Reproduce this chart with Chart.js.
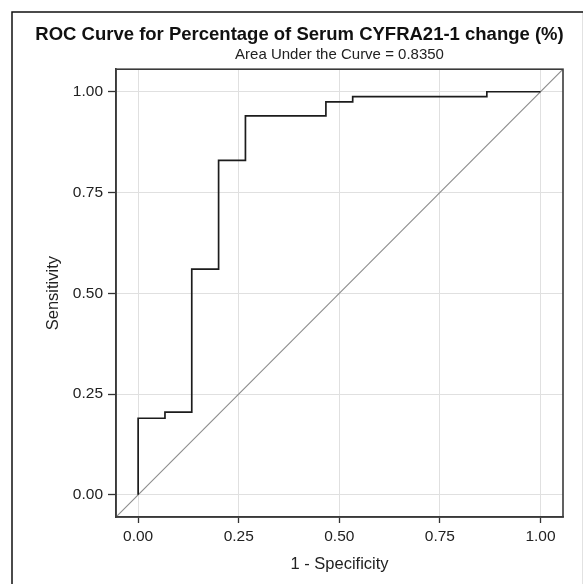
<!DOCTYPE html>
<html>
<head>
<meta charset="utf-8">
<script src="https://cdn.jsdelivr.net/npm/chart.js@4"></script>
<style>
html,body{margin:0;padding:0;background:#fff;}
#wrap{width:587px;height:584px;position:relative;}
</style>
</head>
<body>
<div id="wrap"><canvas id="c" width="587" height="584"></canvas></div>
<script>
// ---- data ----
const titleText = 'ROC Curve for Percentage of Serum CYFRA21-1 change (%)';
const subtitleText = 'Area Under the Curve = 0.8350';
const xTitle = '1 - Specificity';
const yTitle = 'Sensitivity';
const fpr = [0, 0, 0.0667, 0.1333, 0.2, 0.2667, 0.4667, 0.5333, 0.8667, 1];
const tpr = [0, 0.19, 0.205, 0.56, 0.83, 0.94, 0.975, 0.988, 1, 1];
const axisMin = -0.055;
const axisMax = 1.056;
const refLine = [axisMin, axisMax];
const tickValues = [0, 0.25, 0.5, 0.75, 1];
const tickLabels = ['0.00', '0.25', '0.50', '0.75', '1.00'];

Chart.defaults.font.family = '"Liberation Sans", Arial, Helvetica, sans-serif';
Chart.defaults.color = '#222';

const framePlugin = {
  id: 'frame',
  beforeDraw(chart) {
    const ctx = chart.ctx;
    ctx.save();
    ctx.fillStyle = '#fff';
    ctx.fillRect(0, 0, chart.width, chart.height);
    ctx.strokeStyle = '#e2e2e2';
    ctx.lineWidth = 1;
    ctx.beginPath();
    ctx.moveTo(582.5, 12); ctx.lineTo(582.5, 584);
    ctx.stroke();
    ctx.strokeStyle = '#111';
    ctx.lineWidth = 1.5;
    ctx.beginPath();
    ctx.moveTo(12, 584); ctx.lineTo(12, 12); ctx.lineTo(583, 12);
    ctx.stroke();
    ctx.restore();
  },
  afterDraw(chart) {
    const a = chart.chartArea;
    const ctx = chart.ctx;
    ctx.save();
    ctx.strokeStyle = '#3a3a3a';
    ctx.lineWidth = 1.6;
    ctx.strokeRect(a.left, a.top, a.right - a.left, a.bottom - a.top);
    ctx.restore();
  }
};

const setTicks = s => { s.ticks = tickValues.map(v => ({ value: v })); };
const tickCb = v => { const i = tickValues.indexOf(v); return i >= 0 ? tickLabels[i] : ''; };

new Chart(document.getElementById('c'), {
  type: 'scatter',
  data: {
    datasets: [
      {
        label: 'ROC',
        data: fpr.map((x, i) => ({ x: x, y: tpr[i] })),
        showLine: true,
        stepped: 'before',
        borderColor: '#1c1c1c',
        borderWidth: 1.7,
        pointRadius: 0,
        fill: false,
        order: 1
      },
      {
        label: 'Reference',
        data: refLine.map(v => ({ x: v, y: v })),
        showLine: true,
        borderColor: '#8c8c8c',
        borderWidth: 1.1,
        pointRadius: 0,
        fill: false,
        order: 2
      }
    ]
  },
  options: {
    responsive: false,
    animation: false,
    devicePixelRatio: 1,
    layout: { padding: { left: 12, right: 0, top: 12, bottom: 0 } },
    plugins: {
      legend: { display: false },
      tooltip: { enabled: false },
      title: {
        display: true,
        text: titleText,
        color: '#111',
        font: { size: 18.5, weight: 'bold' },
        padding: { top: 12, bottom: 0 }
      },
      subtitle: {
        display: true,
        text: subtitleText,
        fullSize: false,
        color: '#222',
        font: { size: 15 },
        padding: { top: 0, bottom: 5 }
      }
    },
    scales: {
      x: {
        type: 'linear',
        min: axisMin,
        max: axisMax,
        afterBuildTicks: setTicks,
        afterFit: s => { s.height = 67; },
        ticks: { callback: tickCb, font: { size: 15.5 }, color: '#222', padding: 4, maxRotation: 0, autoSkip: false },
        grid: { color: '#e0e0e0', lineWidth: 1, tickColor: '#333', tickLength: 6, tickWidth: 1.3 },
        border: { color: '#3a3a3a', width: 1.6 },
        title: { display: true, text: xTitle, font: { size: 16.5 }, color: '#222', padding: { top: 0, bottom: 10 } }
      },
      y: {
        type: 'linear',
        min: axisMin,
        max: axisMax,
        afterBuildTicks: setTicks,
        afterFit: s => { s.width = 104; },
        ticks: { callback: tickCb, font: { size: 15.5 }, color: '#222', padding: 5, autoSkip: false },
        grid: { color: '#e0e0e0', lineWidth: 1, tickColor: '#333', tickLength: 8, tickWidth: 1.3 },
        border: { color: '#3a3a3a', width: 1.6 },
        title: { display: true, text: yTitle, font: { size: 16.5 }, color: '#222', padding: { top: 32, bottom: 0 } }
      },
      y2: {
        type: 'linear',
        position: 'right',
        min: 0,
        max: 1,
        afterFit: s => { s.width = 24; },
        ticks: { display: false },
        grid: { display: false, drawTicks: false },
        border: { display: false }
      }
    }
  },
  plugins: [framePlugin]
});
</script>
</body>
</html>
